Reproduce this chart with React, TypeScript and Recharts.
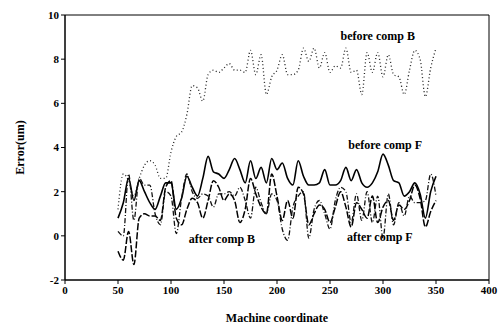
import { LineChart, Line, XAxis, YAxis, ReferenceArea, ReferenceDot } from 'recharts'

const xs = [
  50, 55, 60, 65, 70, 75, 80, 85, 90, 95, 100, 105, 110, 115, 120, 125, 130, 135, 140, 145,
  150, 155, 160, 165, 170, 175, 180, 185, 190, 195, 200, 205, 210, 215, 220, 225, 230, 235,
  240, 245, 250, 255, 260, 265, 270, 275, 280, 285, 290, 295, 300, 305, 310, 315, 320, 325,
  330, 335, 340, 345, 350,
]

const beforeB = [
  1.2, 2.8, 2.5, 1.8, 2.6, 3.2, 3.4, 3.2, 2.6, 2.6, 3.8, 4.5, 4.7, 5.5, 6.8, 6.7, 6.1, 7.3, 7.5, 7.4,
  7.6, 7.8, 7.5, 7.5, 7.4, 8.4, 7.3, 8.2, 6.4, 7.2, 7.5, 8.2, 7.3, 7.3, 7.5, 8.5, 7.9, 8.5,
  7.6, 8.3, 7.4, 7.7, 7.6, 8.5, 7.4, 7.5, 6.4, 8.3, 7.4, 8.3, 7.2, 8.2, 7.3, 7.2, 6.4, 7.5,
  8.4, 8.0, 6.3, 7.6, 8.5,
]

const beforeF = [
  0.8, 1.5, 2.6, 1.6, 2.5, 2.0, 1.5, 1.2, 1.8, 2.4, 2.4, 1.2, 1.7, 2.7, 2.2, 1.8, 2.6, 3.6, 2.9, 2.8,
  2.6, 3.0, 3.5, 3.0, 2.4, 3.4, 2.6, 3.1, 2.4, 3.5, 3.0, 3.3, 2.6, 2.3, 3.4, 2.7, 2.3, 2.3,
  2.4, 3.0, 2.3, 2.3, 2.5, 3.1, 2.5, 3.0, 2.4, 2.2, 2.4, 2.9, 3.7, 3.2, 2.5, 2.4, 1.8, 2.0,
  2.4, 1.9, 0.8, 2.0, 2.7,
]

const afterB = [
  -0.7, -1.1, 0.2, -1.3, 0.8, 1.0, 0.9, 0.9, 0.7, 2.2, 2.5, 0.8, 0.5, 1.2, 1.7, 1.5, 0.8, 1.6, 2.5, 2.2,
  1.6, 1.9, 1.6, 0.6, 1.2, 2.6, 1.9, 1.3, 1.0, 2.8, 1.8, 0.7, 1.6, 0.8, 2.2, 1.9, 0.5, 1.0,
  1.4, 1.2, 0.6, 1.3, 2.0, 1.3, 0.4, 1.5, 1.2, 0.8, 1.8, 0.6, 1.3, 1.6, 0.7, 1.4, 1.2, 1.6,
  2.3, 1.7, 0.4, 1.1, 1.6,
]

const afterF = [
  0.2, 0.0, 2.8, 0.7, 2.6, 2.3, 2.3, 1.0, 0.5, 2.0, 1.8, 0.1, 1.7, 2.8, 2.0, 1.7, 1.9, 1.8, 1.3, 1.9,
  1.9, 2.0, 1.8, 2.2, 1.6, 0.8, 2.2, 1.5, 1.0, 1.9, 1.6, 0.3, -0.2, 1.3, 1.8, 2.0, -0.1, 1.2,
  1.6, 1.0, 0.3, 1.6, 2.2, 2.0, 0.6, 1.9, 0.7, 2.0, 0.6, 1.8, -0.1, 1.9, 0.5, 1.5, 0.9, 1.8,
  1.5, 1.5, 1.6, 2.8, 1.8,
]

const xTicks = [0, 50, 100, 150, 200, 250, 300, 350, 400]
const yTicks = [-2, 0, 2, 4, 6, 8, 10]

const notes = [
  { text: 'before comp B', x: 295, y: 9.06 },
  { text: 'before comp F', x: 302, y: 4.12 },
  { text: 'after comp B', x: 148, y: -0.14 },
  { text: 'after comp F', x: 297, y: -0.05 },
]

const data = xs.map((x, i) => ({
  x,
  beforeB: beforeB[i],
  beforeF: beforeF[i],
  afterB: afterB[i],
  afterF: afterF[i],
}))

const font = { fontFamily: '"Liberation Serif", serif', fontWeight: 'bold', fontSize: 11, fill: '#000' }

export default function App() {
  return (
    <div style={{ position: 'absolute', left: 0, top: 0, background: '#fff' }}>
      <LineChart width={504} height={326} data={data} margin={{ top: 15, right: 15, bottom: 26, left: 35 }}>
        <ReferenceArea x1={0} x2={400} y1={-2} y2={10} fill="none" stroke="#000" strokeWidth={1} />
        <XAxis
          dataKey="x"
          type="number"
          domain={[0, 400]}
          ticks={xTicks}
          height={20}
          stroke="#000"
          tick={font}
          tickSize={4}
          label={{ value: 'Machine coordinate', position: 'insideBottom', offset: -22, style: { ...font, fontSize: 12 } }}
        />
        <YAxis
          type="number"
          domain={[-2, 10]}
          ticks={yTicks}
          width={30}
          stroke="#000"
          tick={font}
          tickSize={4}
          label={{ value: 'Error(um)', angle: -90, position: 'insideLeft', offset: -15, style: { ...font, fontSize: 12, textAnchor: 'middle' } }}
        />
        <Line dataKey="beforeB" type="monotone" stroke="#222" strokeWidth={1.3} strokeDasharray="1 2.5" dot={false} isAnimationActive={false} />
        <Line dataKey="beforeF" type="monotone" stroke="#000" strokeWidth={1.6} dot={false} isAnimationActive={false} />
        <Line dataKey="afterB" type="monotone" stroke="#000" strokeWidth={1.5} strokeDasharray="7 2" dot={false} isAnimationActive={false} />
        <Line dataKey="afterF" type="monotone" stroke="#111" strokeWidth={1.3} strokeDasharray="5 2 1 2" dot={false} isAnimationActive={false} />
        {notes.map((n) => (
          <ReferenceDot
            key={n.text}
            x={n.x}
            y={n.y}
            r={0}
            stroke="none"
            fill="none"
            label={{ value: n.text, position: 'center', style: { ...font, fontSize: 12 } }}
          />
        ))}
      </LineChart>
    </div>
  )
}
